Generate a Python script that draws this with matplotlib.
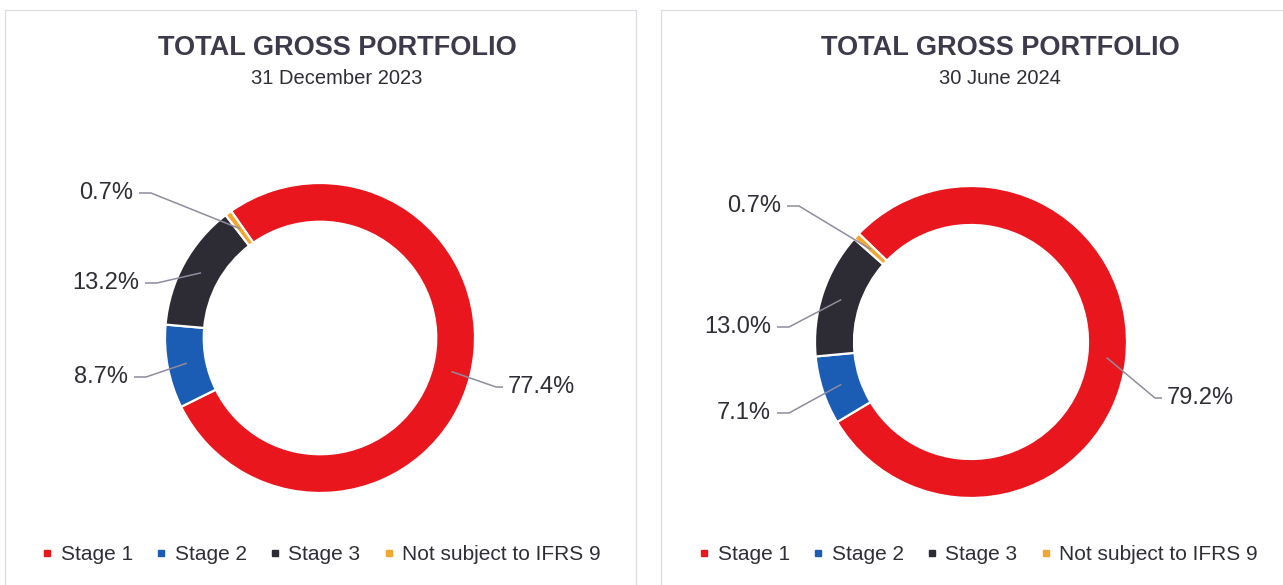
import matplotlib
matplotlib.use("Agg")
import matplotlib.pyplot as plt
from matplotlib.lines import Line2D
import numpy as np

plt.rcParams['font.family'] = ['Liberation Sans', 'DejaVu Sans']

# Data
categories = ['Stage 1', 'Stage 2', 'Stage 3', 'Not subject to IFRS 9']
colors = ['#EA161E', '#1B5DB5', '#2D2C34', '#F2A72E']
title = 'TOTAL GROSS PORTFOLIO'
dates = ['31 December 2023', '30 June 2024']
dec23 = [77.4, 8.7, 13.2, 0.7]
jun24 = [79.2, 7.1, 13.0, 0.7]

W, H = 1283, 585
fig = plt.figure(figsize=(W / 100, H / 100), dpi=100)
ax = fig.add_axes([0, 0, 1, 1])

txt_col = '#2F2E36'
line_col = '#8E8C9E'


def py(y):
    # pixel row (from top) -> data y
    return H - y


def donut(values, date, cx, cy, r, start, title_x, labels_at):
    wedges, _ = ax.pie(values, colors=colors, startangle=start, counterclock=False,
                       center=(cx, py(cy)), radius=r,
                       wedgeprops=dict(width=r * 0.25, edgecolor='white', linewidth=1.6))
    rm = r * 0.875
    for w, v, (tx, ty, ha) in zip(wedges, values, labels_at):
        th = np.deg2rad((w.theta1 + w.theta2) / 2)
        sx, sy = cx + rm * np.cos(th), py(cy) + rm * np.sin(th)
        if ha == 'left':
            ex, elx = tx - 5, tx - 12
        else:
            ex, elx = tx + 6, tx + 18
        ax.plot([sx, elx, ex], [sy, py(ty), py(ty)], color=line_col, lw=1.1,
                solid_capstyle='butt', zorder=3)
        ax.text(tx, py(ty), '%.1f%%' % v, ha=ha, va='center', fontsize=17, color=txt_col)
    ax.text(title_x, py(48), title, ha='center', va='center', fontsize=19.5,
            fontweight='bold', color='#3E3A4C')
    ax.text(title_x, py(78), date, ha='center', va='center', fontsize=14.5, color=txt_col)


donut(dec23, dates[0], 320, 338, 155, 125, 337,
      [(508, 387, 'left'), (128, 377, 'right'), (139, 283, 'right'), (133, 193, 'right')])
donut(jun24, dates[1], 971, 342, 156, 136, 1000,
      [(1167, 398, 'left'), (771, 413, 'right'), (771, 327, 'right'), (781, 206, 'right')])

# panel frames
fc = '#DCDCE6'
ax.plot([5, 5, 636, 636], [0, py(10), py(10), 0], color=fc, lw=0.9)
ax.plot([661, 661, W + 5], [0, py(10), py(10)], color=fc, lw=0.9)

ax.set_xlim(0, W)
ax.set_ylim(0, H)
ax.set_aspect('equal')
ax.axis('off')

handles = [Line2D([], [], marker='s', linestyle='', markersize=4.5, color=c) for c in colors]
for xc in [321 / W, 978 / W]:
    fig.legend(handles, categories, loc='center', bbox_to_anchor=(xc, 1 - 555 / H),
               ncol=4, frameon=False, fontsize=15, handlelength=0.6, handletextpad=0.35,
               columnspacing=1.05, borderpad=0, labelcolor=txt_col)

fig.savefig('out.png', dpi=100)
